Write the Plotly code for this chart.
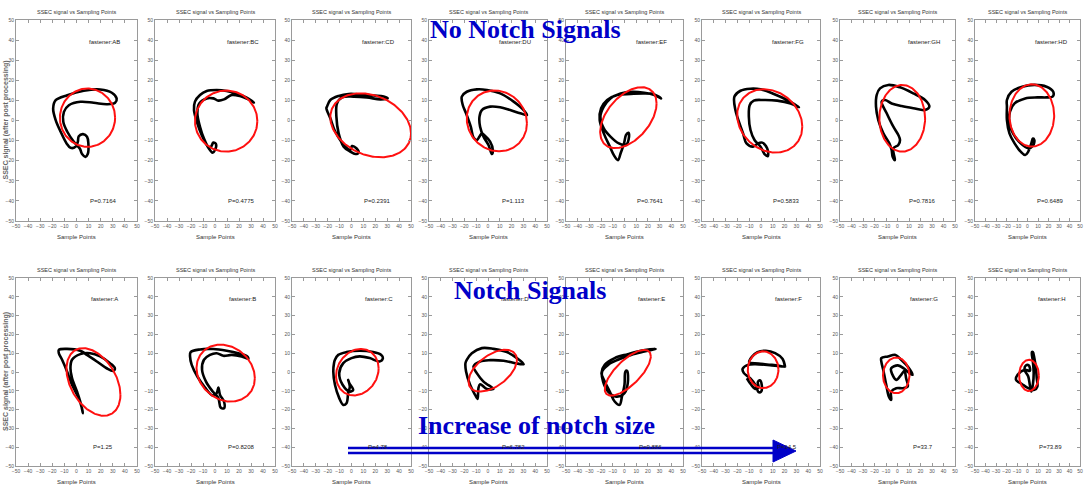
import numpy as np
import plotly.graph_objects as go

W, H = 1086, 490

panel_names = ["AB", "BC", "CD", "DU", "EF", "FG", "GH", "HD",
               "A", "B", "C", "D", "E", "F", "G", "H"]
p_values = ["P=0.7164", "P=0.4775", "P=0.2391", "P=1.113", "P=0.7641", "P=0.5833", "P=0.7816", "P=0.6489",
            "P=1.25", "P=0.8208", "P=4.78", "P=6.782", "P=9.886", "P=14.5", "P=33.7", "P=73.89"]

x_ticks = [-50, -40, -30, -20, -10, 0, 10, 20, 30, 40, 50]
y_ticks = [-50, -40, -30, -20, -10, 0, 10, 20, 30, 40, 50]

# ---- black SSEC loci (traced) ----
ab_x = [-17.2, -7.6, 6.0, 19.6, 29.2, 33.2, 31.9, 25.1, 14.2, 3.3, -6.3, -10.4, -10.9, -7.6, -2.2, 2.7, 4.6, 7.4, 9.3, 9.8, 8.7, 5.4, 1.9, 1.1, -0.8, -4.9, -8.2, -13.1, -17.2, -19.3]
ab_y = [10.1, 12.6, 14.8, 15.4, 13.8, 10.9, 8.8, 8.1, 8.8, 9.3, 7.6, 4.3, -0.7, -5.6, -10.6, -13.9, -16.7, -18.1, -16.7, -11.4, -8.1, -6.8, -7.8, -10.6, -13.1, -13.6, -11.4, -5.6, 0.2, 6.0]
bc_x = [32.5, 26.4, 18.1, 9.7, 1.4, -6.9, -12.5, -16.7, -17.5, -14.7, -11.1, -6.9, -1.9, 0.0, 0.8, -1.4, -3.3, -5.6, -9.2, -12.5, -14.7, -13.1, -6.9, -1.4, 2.8, 7.5, 13.9, 20.8, 27.8]
bc_y = [8.9, 11.4, 13.2, 14.7, 15.2, 14.7, 12.7, 9.4, 5.2, -1.4, -7.2, -12.2, -16.0, -14.7, -11.7, -11.0, -13.0, -13.0, -8.9, -3.1, 3.6, 8.5, 11.0, 11.0, 9.9, 10.5, 12.7, 12.2, 10.5]
cd_x = [-20.6, -17.8, -10.8, -2.4, 7.4, 18.6, 27.0, 30.4, 24.2, 13.0, 1.8, -8.0, -12.2, -12.7, -10.8, -6.6, -1.0, 3.2, 6.0, 4.1, 0.4, -1.0, -5.2, -13.6, -17.8, -21.1]
cd_y = [6.9, 10.2, 12.2, 13.2, 13.0, 12.4, 11.9, 11.0, 10.5, 11.5, 11.9, 11.5, 8.5, 1.9, -6.4, -13.0, -15.5, -16.7, -16.0, -13.8, -12.7, -14.6, -13.0, -5.6, 1.1, 6.1]
du_x = [-22.2, -18.0, -9.5, -1.0, 10.3, 21.7, 30.2, 33.0, 27.3, 18.8, 10.3, 1.8, -5.2, -7.2, -6.7, -3.8, 0.4, 3.3, 4.1, 1.8, -3.3, -5.2, -7.2, -9.5, -12.3, -14.6, -18.6, -21.4]
du_y = [11.9, 14.3, 15.5, 15.2, 13.5, 9.4, 5.2, 2.7, 3.6, 5.2, 6.6, 6.9, 5.2, 1.9, -3.1, -8.0, -12.2, -16.7, -14.7, -10.5, -7.2, -6.4, -8.0, -9.7, -8.4, -3.1, 3.6, 7.7]
ef_x = [31.3, 25.5, 16.9, 6.8, -3.3, -12.0, -17.7, -20.6, -17.7, -12.0, -4.8, 1.0, 3.9, 3.3, 1.3, -0.4, -3.3, -5.6, -9.1, -12.5, -17.7, -21.2, -20.0, -14.8, -6.2, 5.3, 16.9, 25.5]
ef_y = [11.0, 12.7, 13.8, 14.3, 13.5, 11.0, 6.9, 1.9, -3.9, -8.0, -11.4, -12.2, -8.0, -6.1, -7.2, -11.4, -16.3, -19.7, -17.2, -13.0, -6.4, 0.2, 6.1, 10.2, 12.7, 13.2, 13.5, 13.0]
fg_x = [32.2, 25.1, 13.7, 2.4, -6.1, -9.5, -10.3, -8.9, -5.5, -0.4, 3.0, 5.8, 5.2, 1.0, -2.7, -6.7, -12.3, -15.2, -21.7, -22.5, -17.4, -8.9, -0.4, 10.9, 22.2]
fg_y = [6.6, 8.5, 9.9, 10.2, 9.9, 7.7, 1.9, -4.7, -9.7, -13.0, -16.7, -17.7, -13.8, -11.0, -11.4, -13.0, -11.4, -6.4, 5.2, 11.9, 14.8, 15.8, 15.5, 13.2, 10.2]
gh_x = [-15.2, -8.0, 2.2, 13.8, 23.9, 27.7, 23.9, 13.8, 3.6, -5.1, -10.9, -13.8, -9.4, -3.6, 0.7, 2.2, 0.7, -3.6, -2.2, -4.2, -5.1, -7.1, -12.3, -16.7, -18.7, -18.1]
gh_y = [16.0, 17.7, 16.5, 13.5, 10.2, 6.9, 5.2, 6.1, 7.2, 8.5, 10.2, 9.4, 3.6, -3.1, -7.2, -9.7, -12.2, -13.8, -19.7, -18.0, -14.7, -11.4, -6.4, 0.2, 6.9, 12.7]
hd_x = [-19.6, -15.2, -5.1, 6.5, 18.1, 24.5, 23.9, 18.1, 9.4, -2.2, -12.3, -16.7, -17.2, -13.8, -6.5, 0.7, 5.1, 6.5, 5.1, 3.6, 0.7, -2.2, -6.5, -12.3, -17.2, -19.6, -19.6]
hd_y = [10.2, 14.3, 16.8, 17.7, 16.8, 14.3, 11.9, 11.5, 11.5, 11.0, 8.5, 4.4, -1.4, -6.4, -11.4, -13.8, -12.7, -9.7, -9.0, -11.4, -15.5, -17.2, -15.5, -11.4, -6.4, 0.2, 6.9]
a_x = [-14.6, -7.8, 3.1, 8.6, 16.8, 24.9, 30.4, 31.7, 27.7, 19.5, 11.3, 3.1, -3.7, -5.0, -3.7, 0.4, 3.1, 5.3, 4.5, 1.8, -3.7, -7.8, -11.9, -14.6]
a_y = [11.8, 12.3, 11.3, 9.1, 5.6, 2.0, 0.6, 2.0, 4.7, 8.3, 10.0, 9.5, 6.5, 2.0, -3.3, -10.4, -15.7, -21.9, -19.3, -13.9, -6.8, 0.3, 6.5, 10.0]
b_x = [-20.3, -12.5, -1.4, 9.7, 19.4, 26.9, 27.8, 22.2, 13.9, 6.9, 1.4, -4.2, -9.2, -10.8, -7.5, -1.9, 2.8, 4.7, 7.5, 7.5, 4.2, 2.8, 1.4, -1.9, -8.3, -14.7, -19.4, -20.8]
b_y = [10.6, 12.0, 12.2, 11.3, 10.0, 8.3, 7.0, 8.3, 9.1, 8.6, 10.0, 9.1, 6.5, 1.2, -5.1, -10.4, -13.9, -18.9, -19.3, -15.7, -12.2, -8.3, -11.3, -12.5, -8.3, -2.4, 3.8, 8.3]
c_x = [-13.9, -11.1, -4.2, 6.9, 18.1, 25.0, 26.4, 23.6, 15.3, 6.9, 0.0, -6.9, -10.3, -7.5, -1.4, 1.4, -1.9, -2.8, -1.4, -2.8, -4.2, -6.9, -10.3, -13.9, -15.3, -14.7]
c_y = [6.5, 9.1, 10.6, 11.3, 10.6, 9.1, 7.4, 5.6, 7.4, 8.3, 7.4, 4.7, -0.6, -6.8, -10.4, -9.5, -5.9, -4.2, -7.7, -11.3, -16.6, -17.5, -13.9, -6.8, 0.3, 4.7]
d_x = [-18.0, -13.7, -5.2, 4.7, 16.0, 24.5, 30.2, 23.1, 13.2, 1.8, -6.7, -12.3, -9.5, -3.8, 4.7, -1.0, -6.7, -8.1, -8.9, -10.9, -15.2, -18.6, -19.1]
d_y = [6.5, 10.0, 12.7, 12.3, 10.6, 7.4, 4.2, 4.7, 6.0, 6.3, 5.6, 2.9, -0.6, -5.1, -9.0, -9.0, -6.5, -8.6, -14.3, -12.2, -6.8, 0.3, 4.7]
e_x = [26.7, 16.9, 5.6, -5.6, -14.0, -19.1, -18.3, -14.0, -7.0, 0.0, 2.8, 2.2, 0.8, 0.0, -2.2, -4.2, -8.4, -12.6, -16.9, -19.7, -16.9, -8.4, 2.8, 14.0]
e_y = [12.3, 10.9, 9.1, 6.5, 3.8, 0.3, -5.1, -10.4, -13.1, -11.3, -5.9, 0.6, 0.3, -6.8, -13.1, -17.5, -15.7, -10.4, -5.1, -0.6, 3.8, 7.4, 9.5, 11.3]
f_x = [20.4, 18.2, 12.0, 4.1, -3.0, -7.7, -10.0, -2.1, 9.2, 20.4, 9.2, -4.9, -11.1, -15.6, -14.5, -9.2, -4.4, -2.1, 0.1, 0.7, -1.0, -2.7, -2.1, -4.9, -8.3, -12.0]
f_y = [2.8, 7.0, 10.0, 11.3, 10.6, 8.1, 5.2, 4.5, 3.8, 2.8, 3.5, 4.2, 3.8, 1.7, -0.6, -3.3, -7.2, -10.7, -10.4, -7.2, -4.4, -5.4, -8.3, -9.0, -6.8, -3.3]
g_x = [-14.1, -8.3, -1.7, 3.2, 8.9, 13.2, 10.3, 6.0, 0.3, -5.5, -5.5, -1.1, 3.2, 6.0, 7.5, 8.9, 4.6, -1.1, -5.5, -5.5, -7.5, -9.8, -12.1, -14.1]
g_y = [7.4, 8.3, 9.1, 6.5, 2.9, -1.5, -0.6, 1.7, 3.5, 2.0, 0.3, -4.2, -1.5, 0.6, -3.3, -7.7, -8.6, -8.6, -10.4, -14.8, -13.1, -6.8, 0.3, 5.6]
h_x = [5.1, 6.5, 8.0, 8.8, 9.4, 6.5, 0.7, -5.1, -10.9, -9.4, -2.2, 2.2, 1.3, -1.6, -2.8, 0.7, 2.2, 3.6, 5.1, 5.9, 5.1, 4.2]
h_y = [10.6, 7.4, 2.0, -3.3, -7.7, -9.5, -8.6, -6.5, -4.2, -1.5, 1.2, 0.6, 3.5, 3.5, 1.2, -2.4, -6.8, -10.4, -6.8, -0.6, 5.6, 10.6]

loci_x = [ab_x, bc_x, cd_x, du_x, ef_x, fg_x, gh_x, hd_x, a_x, b_x, c_x, d_x, e_x, f_x, g_x, h_x]
loci_y = [ab_y, bc_y, cd_y, du_y, ef_y, fg_y, gh_y, hd_y, a_y, b_y, c_y, d_y, e_y, f_y, g_y, h_y]
closed = [True, True, True, True, True, True, True, True, True, True, True, True, True, False, True, True]

# ---- red fitted ellipses ----
ell_cx = [9.1, 9.3, 16.1, 7.5, 3.3, 7.4, 4.1, 4.1, 14.0, 8.9, 4.9, 4.0, 2.8, 1.8, -1.1, 1.4]
ell_cy = [1.4, -0.3, -2.4, -0.2, 1.4, -0.2, 1.1, 2.5, -5.3, -0.6, -0.1, 0.7, -0.4, 1.2, -1.8, -1.8]
ell_rx = [22.8, 26.0, 33.9, 25.5, 24.1, 27.6, 19.9, 21.3, 22.3, 24.3, 17.9, 20.5, 19.7, 13.0, 11.5, 9.4]
ell_ry = [14.5, 15.2, 15.4, 15.1, 13.4, 15.5, 16.6, 15.5, 16.6, 14.9, 12.2, 9.5, 8.5, 9.8, 9.5, 8.3]
ell_tilt = [0.0, 0.0, -4.0, -1.2, 7.1, -2.9, 0.0, 0.0, -6.9, -2.7, 2.0, 5.8, 8.7, 0.0, 0.0, 0.0]

# ---- layout geometry (pixels) ----
col_left = [16, 155, 292, 429, 566, 702, 840, 975]
col_right = [137, 275, 411, 547, 683, 820, 955, 1080]
row_top = [20, 278]
row_bottom = [221, 466]


def px(x):
    return x / W


def py(y):
    return 1 - y / H


fig = go.Figure()
t = np.linspace(0, 2 * np.pi, 200)
annotations = []
axis_style = dict(range=[-50, 50], showgrid=False, zeroline=False, showline=True, mirror="ticks",
                  linecolor="#9a9a9a", linewidth=1, ticks="inside", ticklen=3, tickwidth=1,
                  tickcolor="#9a9a9a", tickfont=dict(size=5, color="#555", family="Liberation Sans"),
                  fixedrange=True, automargin=False, tickangle=0)


def paper_text(text, x, y, size, color, family="Liberation Sans", angle=0):
    return dict(x=px(x), y=py(y), xref="paper", yref="paper", xanchor="center", yanchor="middle",
                text=text, showarrow=False, textangle=angle,
                font=dict(size=size, color=color, family=family))


for i, name in enumerate(panel_names):
    r, c = divmod(i, 8)
    n = i + 1
    xa = "x" if n == 1 else f"x{n}"
    ya = "y" if n == 1 else f"y{n}"
    lx, ly = list(loci_x[i]), list(loci_y[i])
    if closed[i]:
        lx.append(lx[0])
        ly.append(ly[0])
    fig.add_trace(go.Scatter(x=lx, y=ly, mode="lines", xaxis=xa, yaxis=ya,
                             line=dict(color="black", width=2.6, shape="spline", smoothing=1.0),
                             showlegend=False, hoverinfo="skip"))
    ex = ell_cx[i] + ell_rx[i] * np.cos(t)
    ey = ell_cy[i] + ell_ry[i] * np.sin(t) + ell_tilt[i] * np.cos(t)
    fig.add_trace(go.Scatter(x=ex, y=ey, mode="lines", xaxis=xa, yaxis=ya,
                             line=dict(color="#ff1010", width=2),
                             showlegend=False, hoverinfo="skip"))
    xdom = [px(col_left[c]), px(col_right[c])]
    ydom = [py(row_bottom[r]), py(row_top[r])]
    fig.update_layout(**{
        ("xaxis" if n == 1 else f"xaxis{n}"): dict(domain=xdom, anchor=ya, tickvals=x_ticks, **axis_style),
        ("yaxis" if n == 1 else f"yaxis{n}"): dict(domain=ydom, anchor=xa, tickvals=y_ticks, **axis_style),
    })
    annotations.append(dict(x=23, y=39, xref=xa, yref=ya, text=f"fastener:{name}", showarrow=False,
                            xanchor="center", yanchor="middle",
                            font=dict(size=6, color="#222", family="Liberation Sans")))
    annotations.append(dict(x=22, y=-40, xref=xa, yref=ya, text=p_values[i], showarrow=False,
                            xanchor="center", yanchor="middle",
                            font=dict(size=6, color="#222", family="Liberation Sans")))
    cxp = (col_left[c] + col_right[c]) / 2
    annotations.append(paper_text("SSEC signal vs Sampling Points", cxp, row_top[r] - 8, 5.5, "#333"))
    annotations.append(paper_text("Sample Points", cxp, row_bottom[r] + 16, 6, "#333"))

for r in range(2):
    annotations.append(paper_text("<b>SSEC signal (after post processing)</b>", 6,
                                  (row_top[r] + row_bottom[r]) / 2, 7, "#666", angle=-90))

blue = "#0000c8"
for txt, xc, yc in [("No Notch Signals", 525, 30), ("Notch Signals", 530, 290),
                    ("Increase of notch size", 536, 425)]:
    annotations.append(paper_text(f"<b>{txt}</b>", xc, yc, 26, blue, family="Liberation Serif"))

shapes = []
for yl in [448, 453]:
    shapes.append(dict(type="line", xref="paper", yref="paper", x0=px(348), x1=px(778),
                       y0=py(yl), y1=py(yl), line=dict(color=blue, width=2.5)))
tri = f"M {px(773)} {py(440)} L {px(796)} {py(451)} L {px(773)} {py(462)} Z"
shapes.append(dict(type="path", xref="paper", yref="paper", path=tri, fillcolor=blue,
                   line=dict(color=blue, width=1)))

fig.update_layout(width=W, height=H, margin=dict(l=0, r=0, t=0, b=0),
                  paper_bgcolor="white", plot_bgcolor="white",
                  annotations=annotations, shapes=shapes)
fig.write_html("out.html", post_script="document.body.style.margin='0';",
               config={"displayModeBar": False})
